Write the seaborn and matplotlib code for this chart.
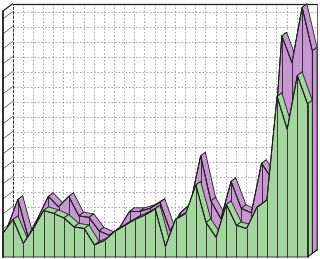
import matplotlib
matplotlib.use("Agg")
import matplotlib.pyplot as plt
from matplotlib.patches import Polygon
import seaborn as sns
import pandas as pd

# ---- data ----
points = list(range(31))
green = [16, 25, 9, 19, 31, 29, 26, 20, 19, 8, 11, 17, 21, 25, 28, 32, 7, 25, 29, 48,
         23, 13, 35, 21, 19, 33, 38, 107, 85, 121, 102]
purple = [18, 36, 11, 24, 38, 31, 38, 25, 24, 15, 12, 17, 28, 28, 30, 34, 15, 27, 33, 65,
          35, 23, 48, 30, 27, 60, 50, 145, 127, 164, 135]
grid_values = list(range(10, 170, 10))

# ---- style ----
sns.set_theme(style="white")
GREEN = "#a3d69c"
PURPLE = "#c896d0"
EDGE = "#1e1e1e"
DX, DY = 0.47, 2.4          # depth offset per row (data units)
TOP = 164                    # wall height
n = len(points)
last = points[-1]

fig = plt.figure(figsize=(3.2, 2.59), dpi=100)
ax = fig.add_axes([0, 0, 1, 1])
ax.set_xlim(-3 / 10.15, 317 / 10.15)
ax.set_ylim(-2 / 1.5, 257 / 1.5)
ax.axis("off")

z = [1]


def poly(pts, fc, ec=EDGE, lw=0.6):
    ax.add_patch(Polygon(pts, closed=True, facecolor=fc, edgecolor=ec, lw=lw,
                         zorder=z[0], joinstyle="round"))
    z[0] += 0.001


def line(xs, ys, **kw):
    ax.plot(xs, ys, zorder=z[0], **kw)
    z[0] += 0.001


# ---- walls and grid ----
bx, by = 2 * DX, 2 * DY
for v in grid_values:
    line([bx, last + bx], [v + by - 1.2, v + by - 1.2], color="#9a9a9a", lw=0.6, ls=(0, (2.0, 2.2)))
    line([0, bx], [v - 1.2, v + by - 1.2], color="#666666", lw=0.6)
for p in points:
    line([p + bx, p + bx], [by, TOP + by], color="#9a9a9a", lw=0.6, ls=(0, (2.0, 2.2)))
line([bx, bx], [by, TOP + by], color="#333333", lw=0.7, ls=(0, (3, 1.5)))
line([bx, last + bx], [TOP + by, TOP + by], color=EDGE, lw=0.9)
line([last + bx, last + bx], [by, TOP + by], color="#555555", lw=0.6)
line([0, bx], [TOP, TOP + by], color=EDGE, lw=0.9)
line([0, 0], [0, TOP], color=EDGE, lw=1.3)


# ---- 3D area rows ----
def draw_row(vals, row, color, name):
    ox, oy = row * DX, row * DY
    for j in range(n - 1):
        poly([(points[j] + ox, vals[j] + oy), (points[j + 1] + ox, vals[j + 1] + oy),
              (points[j + 1] + ox + DX, vals[j + 1] + oy + DY),
              (points[j] + ox + DX, vals[j] + oy + DY)], color)
    poly([(last + ox, oy), (last + ox, vals[-1] + oy),
          (last + ox + DX, vals[-1] + oy + DY), (last + ox + DX, oy + DY)], color)
    front = [(points[0] + ox, oy)] + [(p + ox, v + oy) for p, v in zip(points, vals)] + [(last + ox, oy)]
    poly(front, color)
    for p, v in zip(points, vals):
        line([p + ox, p + ox], [oy, v + oy], color=EDGE, lw=0.6)
    df = pd.DataFrame({"x": [p + ox for p in points], "y": [v + oy for v in vals]})
    sns.lineplot(data=df, x="x", y="y", ax=ax, color=EDGE, lw=0.7, zorder=z[0], label=name)
    z[0] += 0.001


draw_row(purple, 1, PURPLE, "purple")
draw_row(green, 0, GREEN, "green")
line([last, last + bx], [0, by], color=EDGE, lw=0.7)
if ax.get_legend() is not None:
    ax.get_legend().remove()
ax.set_xlim(-3 / 10.15, 317 / 10.15)
ax.set_ylim(-2 / 1.5, 257 / 1.5)
ax.axis("off")

fig.savefig("out.png", dpi=100, facecolor="white")
